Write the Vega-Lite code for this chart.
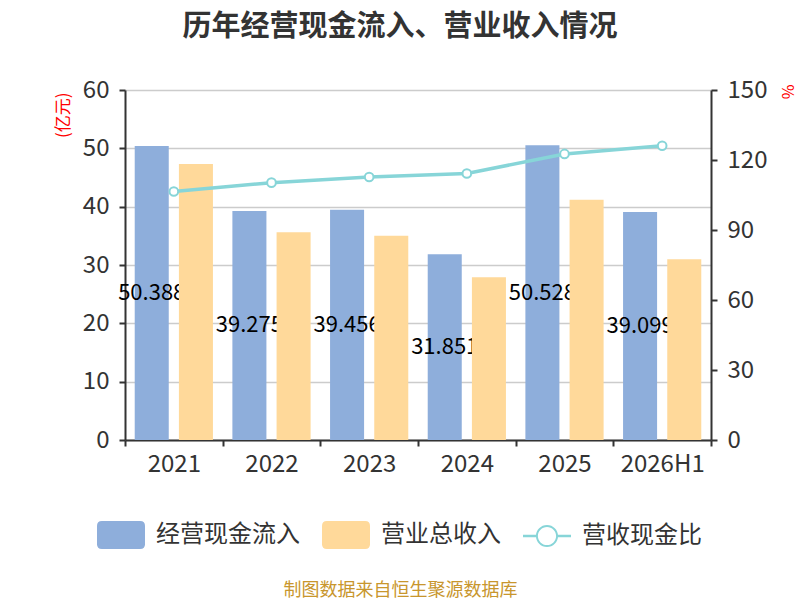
{
  "$schema": "https://vega.github.io/schema/vega-lite/v6.json",
  "autosize": "none",
  "padding": {"left": 125, "top": 90, "right": 89, "bottom": 160},
  "width": 586, "height": 350,
  "title": {
    "text": "历年经营现金流入、营业收入情况",
    "fontSize": 29, "fontWeight": "bold", "color": "#333333",
    "frame": "group", "anchor": "middle", "dx": -18, "offset": 36
  },
  "datasets": {
    "bars": [
      {"year": "2021", "type": "经营现金流入", "value": 50.388},
      {"year": "2021", "type": "营业总收入", "value": 47.3},
      {"year": "2022", "type": "经营现金流入", "value": 39.275},
      {"year": "2022", "type": "营业总收入", "value": 35.6},
      {"year": "2023", "type": "经营现金流入", "value": 39.456},
      {"year": "2023", "type": "营业总收入", "value": 35.0},
      {"year": "2024", "type": "经营现金流入", "value": 31.851},
      {"year": "2024", "type": "营业总收入", "value": 27.9},
      {"year": "2025", "type": "经营现金流入", "value": 50.528},
      {"year": "2025", "type": "营业总收入", "value": 41.2},
      {"year": "2026H1", "type": "经营现金流入", "value": 39.099},
      {"year": "2026H1", "type": "营业总收入", "value": 31.0}
    ],
    "ratio": [
      {"year": "2021", "ratio": 106.5},
      {"year": "2022", "ratio": 110.3},
      {"year": "2023", "ratio": 112.7},
      {"year": "2024", "ratio": 114.2},
      {"year": "2025", "ratio": 122.6},
      {"year": "2026H1", "ratio": 126.1}
    ]
  },
  "encoding": {
    "x": {
      "field": "year", "type": "nominal", "sort": null,
      "scale": {"paddingInner": 0, "paddingOuter": 0},
      "axis": {
        "title": "制图数据来自恒生聚源数据库",
        "titleX": 275, "titleY": 150, "titleBaseline": "middle",
        "titleFontSize": 18, "titleFontWeight": "normal", "titleColor": "#c8962d",
        "labelAngle": 0, "labelFontSize": 24, "labelColor": "#333333", "labelPadding": 6,
        "tickBand": "extent", "tickSize": 6, "tickWidth": 2, "tickColor": "#333333",
        "domainColor": "#333333", "domainWidth": 2
      }
    }
  },
  "layer": [
    {
      "data": {"name": "bars"},
      "transform": [{"filter": "datum.type === '经营现金流入'"}],
      "mark": {"type": "bar"},
      "encoding": {
        "xOffset": {"field": "type", "type": "nominal", "scale": {"domain": ["经营现金流入", "营业总收入"], "paddingInner": 0.23, "paddingOuter": 0.22}},
        "y": {
          "field": "value", "type": "quantitative",
          "scale": {"domain": [0, 60]},
          "axis": {
            "orient": "left", "values": [0, 10, 20, 30, 40, 50, 60],
            "title": "(亿元)", "titleColor": "#ff0000", "titleFontSize": 17, "titleFontWeight": "normal",
            "titleAngle": 270, "titleAlign": "right", "titleBaseline": "middle", "titleX": -62, "titleY": 2,
            "labelFontSize": 24, "labelColor": "#333333", "labelPadding": 10,
            "tickSize": 6, "tickWidth": 2, "tickColor": "#333333",
            "domainColor": "#333333", "domainWidth": 2,
            "grid": true, "gridColor": "#cccccc", "gridWidth": 1.5
          }
        },
        "color": {
          "field": "type", "type": "nominal",
          "scale": {"domain": ["经营现金流入", "营业总收入", "营收现金比"], "range": ["#8eaedb", "#ffd99a", "#87d5d8"]},
          "legend": {
            "title": null, "orient": "none", "legendX": -28, "legendY": 421,
            "direction": "horizontal", "columns": 3, "columnPadding": 22,
            "labelFontSize": 24, "labelColor": "#333333", "labelOffset": 11, "symbolSize": 2304,
            "encode": {
              "symbols": {
                "update": {
                  "shape": {"signal": "datum.value === '营收现金比' ? 'M-1,-0.05L-0.44,-0.05L-0.44,0.05L-1,0.05ZM0.44,-0.05L1,-0.05L1,0.05L0.44,0.05ZM-0.46,0A0.46,0.46,0,1,1,0.46,0A0.46,0.46,0,1,1,-0.46,0ZM-0.38,0A0.38,0.38,0,1,0,0.38,0A0.38,0.38,0,1,0,-0.38,0Z' : 'M-0.8,-0.58L0.8,-0.58Q1,-0.58,1,-0.38L1,0.38Q1,0.58,0.8,0.58L-0.8,0.58Q-1,0.58,-1,0.38L-1,-0.38Q-1,-0.58,-0.8,-0.58Z'"},
                  "fill": {"signal": "datum.value === '营收现金比' ? '#87d5d8' : datum.value === '经营现金流入' ? '#8eaedb' : '#ffd99a'"},
                  "stroke": {"value": "transparent"},
                  "strokeWidth": {"value": 0},
                  "opacity": {"value": 1}
                }
              }
            }
          }
        }
      }
    },
    {
      "data": {"name": "bars"},
      "transform": [{"filter": "datum.type === '经营现金流入'"}],
      "mark": {"type": "text", "fontSize": 22, "color": "#000000", "align": "center", "baseline": "middle"},
      "encoding": {
        "xOffset": {"field": "type", "type": "nominal"},
        "y": {"field": "value", "type": "quantitative", "scale": {"domain": [0, 120]}, "axis": null},
        "text": {"field": "value", "type": "quantitative", "format": ".3f"}
      }
    },
    {
      "data": {"name": "bars"},
      "transform": [{"filter": "datum.type === '营业总收入'"}],
      "mark": {"type": "bar"},
      "encoding": {
        "xOffset": {"field": "type", "type": "nominal"},
        "y": {"field": "value", "type": "quantitative", "scale": {"domain": [0, 60]}, "axis": null},
        "color": {"field": "type", "type": "nominal"}
      }
    },
    {
      "data": {"name": "ratio"},
      "mark": {
        "type": "line", "strokeWidth": 3.5,
        "point": {"filled": false, "fill": "#ffffff", "strokeWidth": 2, "size": 75}
      },
      "encoding": {
        "y": {
          "field": "ratio", "type": "quantitative",
          "scale": {"domain": [0, 150]},
          "axis": {
            "orient": "right", "values": [0, 30, 60, 90, 120, 150],
            "title": "%", "titleColor": "#ff0000", "titleFontSize": 16, "titleFontWeight": "normal",
            "titleAngle": 90, "titleAlign": "left", "titleBaseline": "middle", "titleX": 75, "titleY": -6,
            "labelFontSize": 24, "labelColor": "#333333", "labelPadding": 10,
            "tickSize": 6, "tickWidth": 2, "tickColor": "#333333",
            "domainColor": "#333333", "domainWidth": 2, "grid": false
          }
        },
        "color": {"datum": "营收现金比", "type": "nominal"}
      }
    }
  ],
  "resolve": {"scale": {"y": "independent"}},
  "config": {
    "font": "Noto Sans CJK SC",
    "view": {"stroke": null}
  }
}
